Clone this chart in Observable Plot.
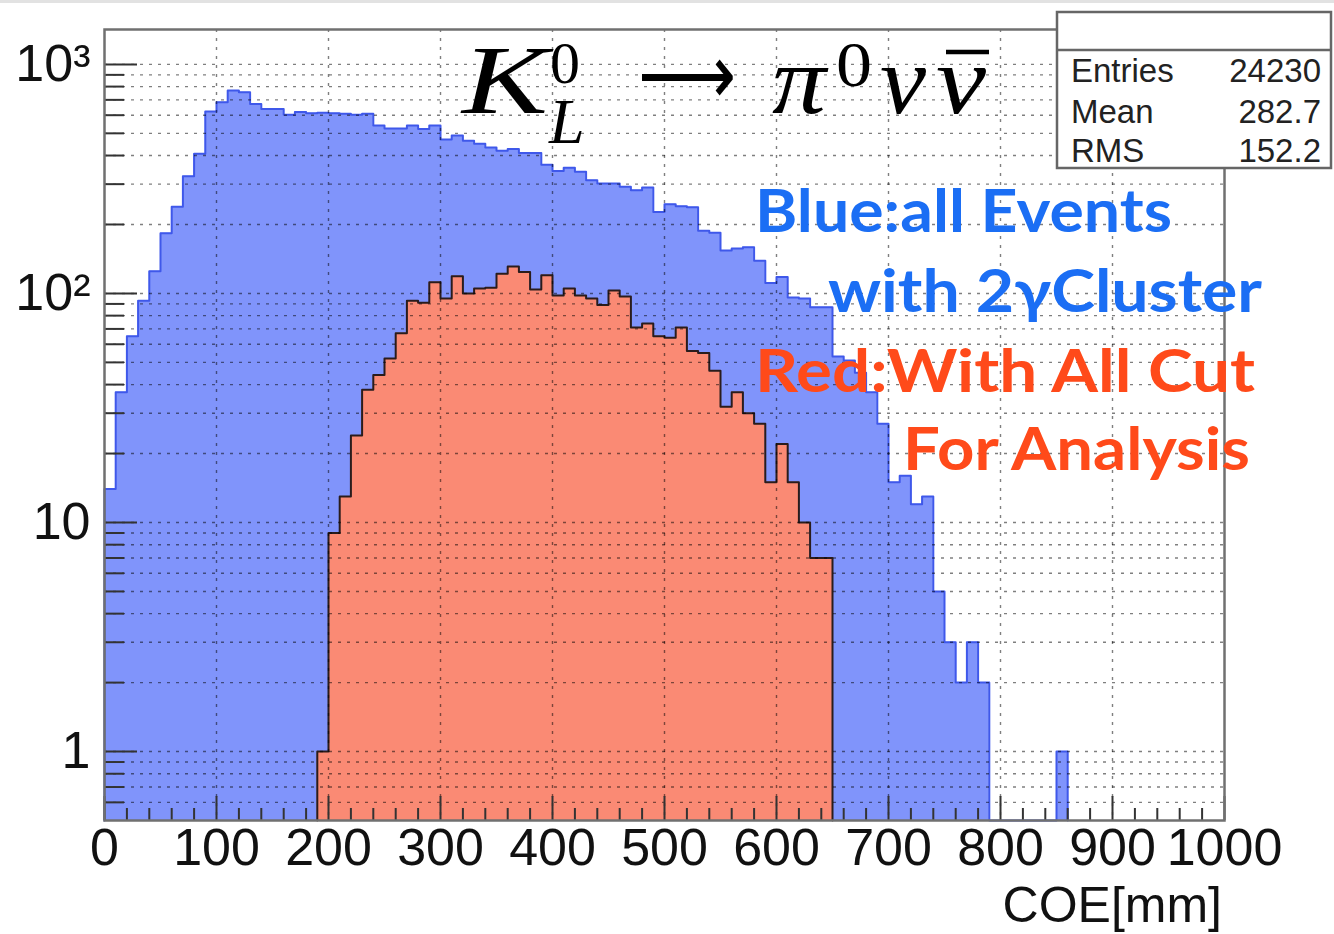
<!DOCTYPE html>
<html><head><meta charset="utf-8">
<script src="https://cdn.jsdelivr.net/npm/d3@7"></script>
<script src="https://cdn.jsdelivr.net/npm/@observablehq/plot@0.6"></script>
<style>
html,body{margin:0;padding:0;background:#fff;}
#chart{position:relative;width:1334px;height:934px;overflow:hidden;background:#fff;}
#topline{position:absolute;left:0;top:0;width:1334px;height:3px;background:#e2e2e2;z-index:2;}
</style></head><body><div id="chart"><div id="topline"></div></div>
<script>
// ---- data ----
const binWidth = 10;
const xDomain = [0, 1000];
const yDomain = [0.5, 1420];
const blueCounts = [
  14,37,65,93,125,183,239,325,407,622,
  684,769,756,672,639,639,602,620,612,615,
  612,609,602,609,541,525,525,541,522,541,
  470,489,464,450,434,420,427,410,410,365,
  342,354,340,312,302,302,292,282,290,227,
  245,240,238,188,184,154,157,159,139,111,
  118,96,95,87,87,53,51,45,37,27,
  15,16,12,13,5,3,2,3,2,0,
  0,0,0,0,0,1,0,0,0,0,
  0,0,0,0,0,0,0,0,0,0
];
const redCounts = [
  0,0,0,0,0,0,0,0,0,0,
  0,0,0,0,0,0,0,0,0,1,
  9,13,24,38,44,52,67,93,91,112,
  95,119,100,105,106,122,131,124,104,120,
  98,105,98,95,89,103,97,71,74,65,
  64,71,56,55,46,32,37,30,27,15,
  22,15,10,7,7,0,0,0,0,0,
  0,0,0,0,0,0,0,0,0,0,
  0,0,0,0,0,0,0,0,0,0,
  0,0,0,0,0,0,0,0,0,0
];
const xTickValues = [0,100,200,300,400,500,600,700,800,900,1000];
const xTickLabels = ["0","100","200","300","400","500","600","700","800","900","1000"];
const yTickValues = [1,10,100,1000];
const yTickLabels = ["1","10","10\u00B2","10\u00B3"];
const xAxisTitle = "COE[mm]";
const statsNames = ["Entries","Mean","RMS"];
const statsValues = ["24230","282.7","152.2"];
const noteLines = ["Blue:all Events","with 2\u03B3Cluster","Red:With All Cut","For Analysis"];

// ---- derived ----
const ymin = yDomain[0];
function outline(counts) {
  const nz = counts.map((v,i)=> v>0 ? i : -1).filter(i=>i>=0);
  const first = nz[0], last = nz[nz.length-1];
  const pts = [{x: first*binWidth, y: ymin}];
  for (let i=first;i<=last;i++) pts.push({x: i*binWidth, y: Math.max(counts[i], ymin)});
  pts.push({x: (last+1)*binWidth, y: Math.max(counts[last], ymin)});
  pts.push({x: (last+1)*binWidth, y: ymin});
  return pts;
}
const bluePts = outline(blueCounts);
const redPts = outline(redCounts);
const yMinor = [0.1,1,10,100].flatMap(d => d3.range(1,10).map(k => +(k*d).toPrecision(3))).filter(v => v>=0.6 && v<1000 && !yTickValues.includes(v));
const yGrid = yMinor.concat(yTickValues);
const xMinor = d3.range(xDomain[0], xDomain[1]+1, 20).filter(v => !xTickValues.includes(v));
const xGrid = xTickValues.filter(v => v>xDomain[0] && v<xDomain[1]);

const tickStyle = {stroke: "#333", strokeWidth: 2, tickFormat: () => "", label: null};
const gridStyle = {stroke: "#000", strokeOpacity: 0.5, strokeWidth: 1.4, strokeDasharray: "3,6"};

const svg = Plot.plot({
  width: 1334, height: 934,
  marginLeft: 104, marginRight: 110, marginTop: 29, marginBottom: 114,
  style: {fontFamily: "'Liberation Sans', Arial, sans-serif", fontSize: "52px", background: "#fff", color: "#111"},
  x: {domain: xDomain},
  y: {type: "log", domain: yDomain},
  marks: [
    Plot.areaY(bluePts, {x: "x", y1: () => ymin, y2: "y", curve: "step-after", fill: "#8094fb"}),
    Plot.line(bluePts, {x: "x", y: "y", curve: "step-after", stroke: "#3f58ea", strokeWidth: 2}),
    Plot.areaY(redPts, {x: "x", y1: () => ymin, y2: "y", curve: "step-after", fill: "#fa8a74"}),
    Plot.line(redPts, {x: "x", y: "y", curve: "step-after", stroke: "#2a1c1c", strokeWidth: 2}),
    Plot.ruleY(yGrid, gridStyle),
    Plot.ruleX(xGrid, gridStyle),
    Plot.axisY({ticks: yTickValues, tickSize: -33, ...tickStyle}),
    Plot.axisY({ticks: yMinor, tickSize: -20, ...tickStyle}),
    Plot.axisX({ticks: xTickValues, tickSize: -24, ...tickStyle}),
    Plot.axisX({ticks: xMinor, tickSize: -12, ...tickStyle}),
    Plot.axisY({ticks: yTickValues, tickSize: 0, tickPadding: 14, label: null, fontSize: 52,
      tickFormat: d => yTickLabels[yTickValues.indexOf(d)]}),
    Plot.axisX({ticks: xTickValues, tickSize: 0, tickPadding: 8, label: null, fontSize: 52,
      tickFormat: d => xTickLabels[xTickValues.indexOf(d)]}),
    Plot.frame({stroke: "#707070", strokeWidth: 2.5})
  ]
});
document.getElementById("chart").appendChild(svg);
svg.style.position = "absolute"; svg.style.left = "0px"; svg.style.top = "0px";

const s = d3.select(svg);
// axis title
s.append("text").attr("x", 1222).attr("y", 922).attr("text-anchor", "end")
  .attr("font-family", "'Liberation Sans', Arial, sans-serif").attr("font-size", 50).attr("fill", "#111")
  .text(xAxisTitle);

// stats box
const sb = s.append("g").attr("text-anchor", "start");
sb.append("rect").attr("x", 1057).attr("y", 12).attr("width", 274).attr("height", 156)
  .attr("fill", "#fff").attr("stroke", "#666").attr("stroke-width", 2.5);
sb.append("line").attr("x1", 1057).attr("x2", 1331).attr("y1", 50).attr("y2", 50)
  .attr("stroke", "#666").attr("stroke-width", 2.5);
const statBase = [82, 123, 162];
statsNames.forEach((n, i) => {
  sb.append("text").attr("x", 1071).attr("y", statBase[i]).attr("text-anchor", "start")
    .attr("font-family", "'Liberation Sans', Arial, sans-serif").attr("font-size", 33).attr("fill", "#222").text(n);
  sb.append("text").attr("x", 1321).attr("y", statBase[i]).attr("text-anchor", "end")
    .attr("font-family", "'Liberation Sans', Arial, sans-serif").attr("font-size", 33).attr("fill", "#222").text(statsValues[i]);
});

// formula
const fg = s.append("g").attr("font-family", "'Liberation Serif', 'Times New Roman', serif").attr("fill", "#000").attr("text-anchor", "start");
const fparts = [
  {t: "K", x: 462, y: 113, fs: 98, it: true, w: 86},
  {t: "\u27F6", x: 638, y: 104, fs: 84, it: false, w: 98, ff: "'DejaVu Sans', sans-serif"},
  {t: "\u03C0", x: 772, y: 113, fs: 98, it: true, w: 54},
  {t: "0", x: 836, y: 86, fs: 64, it: false, w: 36},
  {t: "\u03BD", x: 880, y: 113, fs: 98, it: true, w: 46},
  {t: "\u03BD", x: 936, y: 113, fs: 98, it: true, w: 50}
];
fparts.forEach(p => {
  const t = fg.append("text").attr("x", p.x).attr("y", p.y).attr("font-size", p.fs).attr("text-anchor", "start")
    .attr("font-style", p.it ? "italic" : "normal").text(p.t);
  if (p.ff) t.attr("font-family", p.ff);
  if (p.w) t.attr("textLength", p.w).attr("lengthAdjust", "spacingAndGlyphs");
});
// K superscript 0 and subscript L stacked in one text element
const kss = fg.append("text").attr("text-anchor", "start");
kss.append("tspan").attr("x", 550).attr("y", 83).attr("font-size", 60).text("0");
kss.append("tspan").attr("x", 549).attr("y", 143).attr("font-size", 64).attr("font-style", "italic").text("L");
// overline of the anti-neutrino
fg.append("line").attr("x1", 946).attr("x2", 989).attr("y1", 52).attr("y2", 52)
  .attr("stroke", "#000").attr("stroke-width", 4.5);

// annotation
const ng = s.append("g").attr("font-family", "Lato, 'Open Sans', sans-serif").attr("font-weight", 700).attr("text-anchor", "start");
const notes = [
  {x: 755, y: 232, w: 417, c: "#1b6ef4"},
  {x: 828, y: 312, w: 434, c: "#1b6ef4"},
  {x: 755, y: 392, w: 500, c: "#ff4a1a"},
  {x: 903, y: 470, w: 347, c: "#ff4a1a"}
];
noteLines.forEach((t, i) => {
  const n = notes[i];
  ng.append("text").attr("x", n.x).attr("y", n.y).attr("font-size", 60).attr("fill", n.c).attr("text-anchor", "start")
    .attr("textLength", n.w).attr("lengthAdjust", "spacingAndGlyphs").text(t);
});
</script></body></html>
